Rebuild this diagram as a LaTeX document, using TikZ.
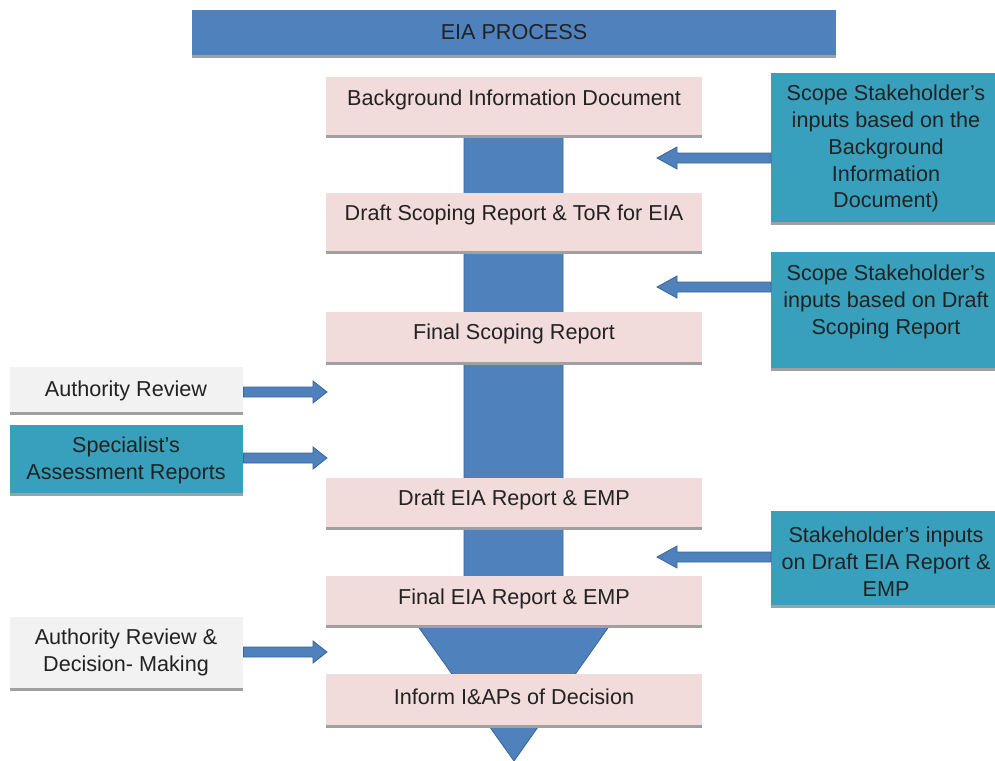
\documentclass[tikz,border=0pt]{standalone}
\usepackage{fontspec}
\setmainfont{Liberation Sans}
\usetikzlibrary{calc,shadows}
\definecolor{hdrblue}{HTML}{4F81BD}
\definecolor{edgeblue}{HTML}{3A6596}
\definecolor{pinkfill}{HTML}{F2DCDB}
\definecolor{tealfill}{HTML}{38A0BC}
\definecolor{grayfill}{HTML}{F2F2F2}
\definecolor{shade}{HTML}{A0A0A0}
\definecolor{ink}{HTML}{222222}
\tikzset{
  boxbase/.style={draw=none, inner sep=0pt, anchor=north west,
    drop shadow={shadow xshift=0pt, shadow yshift=-3pt, fill=shade, opacity=1}},
  pinkbox/.style={boxbase, fill=pinkfill},
  tealbox/.style={boxbase, fill=tealfill},
  graybox/.style={boxbase, fill=grayfill},
  titlebar/.style={boxbase, fill=hdrblue},
  txt/.style={font=\fontsize{21.6}{26.8}\selectfont, text=ink, align=center, inner sep=0pt, yshift=-1.8pt},
  barrow/.style={fill=hdrblue, draw=edgeblue, line width=0.8pt, line join=miter},
  column/.style={fill=hdrblue, draw=edgeblue, line width=0.8pt},
}
% block arrow from #1 to tip #2 (same height), head length #3
\newcommand\blockarrow[3]{%
  \draw[barrow] let \p1=(#1), \p2=(#2), \n1={#3*sign(\x1-\x2)} in
    (\x1,\y1+5pt) -- (\x2+\n1,\y1+5pt) -- (\x2+\n1,\y1+11pt) -- (\x2,\y1)
    -- (\x2+\n1,\y1-11pt) -- (\x2+\n1,\y1-5pt) -- (\x1,\y1-5pt) -- cycle;}
\begin{document}
\begin{tikzpicture}[x=1pt,y=-1pt]
\useasboundingbox (0,0) rectangle (995,760);
% title
\node[titlebar, minimum width=644pt, minimum height=45pt] (title) at (192,10) {};
\node[txt] (titletxt) at (514,30) {EIA PROCESS};
% main column with arrow head
\draw[column] (464,110) -- (563,110) -- (563,625) -- (610,625) -- (514,761)
  -- (417,625) -- (464,625) -- cycle;
% pink boxes
\node[pinkbox, minimum width=376pt, minimum height=58pt] (bid) at (326,77) {};
\node[txt] (bidt) at (514,98) {Background Information Document};
\node[pinkbox, minimum width=376pt, minimum height=58pt] (dsr) at (326,193) {};
\node[txt] (dsrt) at (514,213) {Draft Scoping Report \& ToR for EIA};
\node[pinkbox, minimum width=376pt, minimum height=50pt] (fsr) at (326,312) {};
\node[txt] (fsrt) at (514,332) {Final Scoping Report};
\node[pinkbox, minimum width=376pt, minimum height=49pt] (deia) at (326,478) {};
\node[txt] (deiat) at (514,498) {Draft EIA Report \& EMP};
\node[pinkbox, minimum width=376pt, minimum height=49pt] (feia) at (326,576) {};
\node[txt] (feiat) at (514,597) {Final EIA Report \& EMP};
\node[pinkbox, minimum width=376pt, minimum height=51pt] (inf) at (326,674) {};
\node[txt] (inft) at (514,695) {Inform I\&APs of Decision};
% arrow tips
\coordinate (ta1) at (657,158);
\coordinate (ta2) at (657,287);
\coordinate (ta3) at (657,557);
\coordinate (tl1) at (327,392);
\coordinate (tl2) at (327,458);
\coordinate (tl3) at (327,652);
% right boxes
\node[tealbox, minimum width=226pt, minimum height=149pt] (r1) at (771,73) {};
\node[txt] (r1t) at (886,147) {Scope Stakeholder’s\\inputs based on the\\Background\\Information\\Document)};
\node[tealbox, minimum width=226pt, minimum height=116pt] (r2) at (771,252) {};
\node[txt] (r2t) at (886,300) {Scope Stakeholder’s\\inputs based on Draft\\Scoping Report};
\node[tealbox, minimum width=226pt, minimum height=94pt] (r3) at (771,511) {};
\node[txt] (r3t) at (886,560) {Stakeholder’s inputs\\on Draft EIA Report \&\\EMP};
% left boxes
\node[graybox, minimum width=233pt, minimum height=45pt] (l1) at (10,367) {};
\node[txt] (l1t) at (126,389) {Authority Review};
\node[tealbox, minimum width=233pt, minimum height=68pt] (l2) at (10,425) {};
\node[txt] (l2t) at (126,459) {Specialist’s\\Assessment Reports};
\node[graybox, minimum width=233pt, minimum height=71pt] (l3) at (10,617) {};
\node[txt] (l3t) at (126,651) {Authority Review \&\\Decision- Making};
% connectors
\blockarrow{r1.west |- ta1}{ta1}{20}
\blockarrow{r2.west |- ta2}{ta2}{20}
\blockarrow{r3.west |- ta3}{ta3}{20}
\blockarrow{l1.east |- tl1}{tl1}{14}
\blockarrow{l2.east |- tl2}{tl2}{14}
\blockarrow{l3.east |- tl3}{tl3}{14}
\end{tikzpicture}
\end{document}
